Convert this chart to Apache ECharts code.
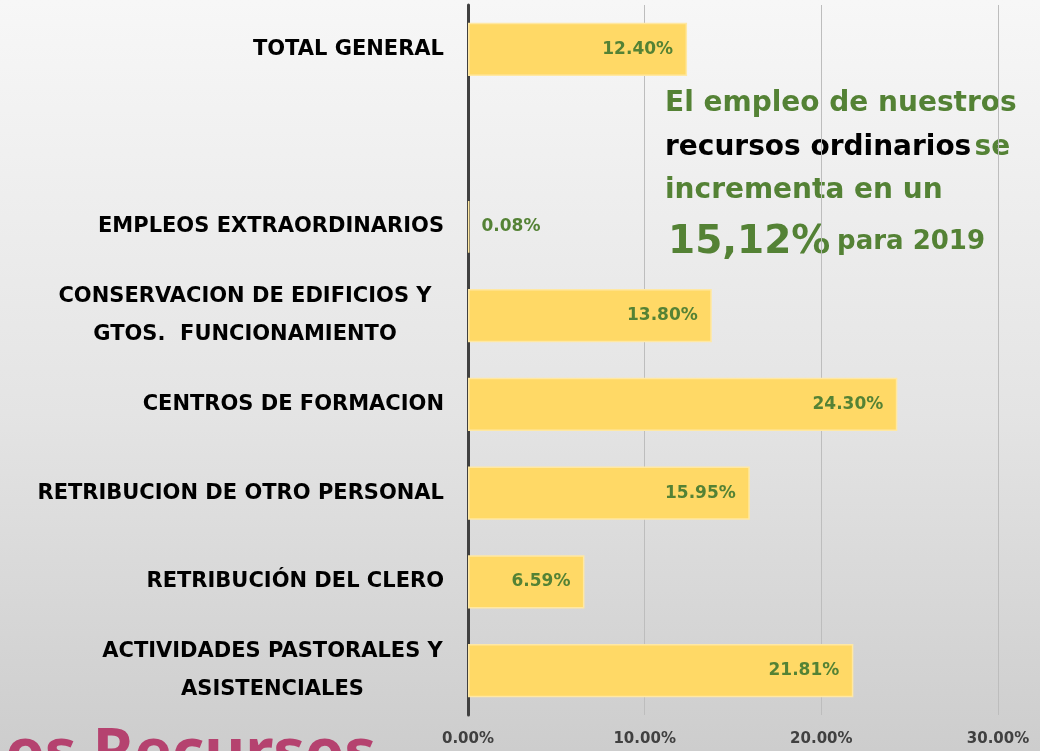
<!DOCTYPE html>
<html>
<head>
<meta charset="utf-8">
<script src="https://cdn.jsdelivr.net/npm/echarts@6/dist/echarts.min.js"></script>
<style type="text/css">
    *{ padding: 0; margin: 0; }
    body{ overflow: hidden; }
    #chart{
        width: 1040px;
        height: 751px;
        background: linear-gradient(180deg, #f7f7f7 0%, #e4e4e4 55%, #cdcdcd 100%);
    }
</style>
</head>
<body>
<div id="chart"></div>
<script type="text/javascript">
    // categorias de abajo hacia arriba
    let categorias = [
        'ACTIVIDADES PASTORALES Y\nASISTENCIALES',
        'RETRIBUCIÓN DEL CLERO',
        'RETRIBUCION DE OTRO PERSONAL',
        'CENTROS DE FORMACION',
        'CONSERVACION DE EDIFICIOS Y\nGTOS.  FUNCIONAMIENTO',
        'EMPLEOS EXTRAORDINARIOS',
        '',
        'TOTAL GENERAL'
    ];
    let valores = [21.81, 6.59, 15.95, 24.30, 13.80, 0.08, null, 12.40];
    let ejeMax = 30;
    let ejeIntervalo = 10;

    let fuente = '"DejaVu Sans", sans-serif';
    let verde = '#548235';

    let myChart = echarts.init(document.getElementById('chart'));

    let datos = valores.map(function (v) {
        if (v !== null && v < 1) {
            // barra muy corta: la etiqueta va fuera
            return { value: v, label: { position: 'right', distance: 12 } };
        }
        return v;
    });

    let option = {
        animation: false,
        grid: { left: 468, right: 42, top: 5, bottom: 36 },
        xAxis: {
            type: 'value',
            min: 0,
            max: ejeMax,
            interval: ejeIntervalo,
            axisLine: { show: false },
            axisTick: { show: false },
            splitLine: { show: true, lineStyle: { color: '#bdbdbd', width: 1 } },
            axisLabel: {
                margin: 17,
                color: '#404040',
                fontFamily: fuente,
                fontWeight: 'bold',
                fontSize: 15,
                formatter: function (v) { return v.toFixed(2) + '%'; }
            }
        },
        yAxis: {
            type: 'category',
            data: categorias,
            axisLine: { show: true, lineStyle: { color: '#404040', width: 3 } },
            axisTick: { show: false },
            axisLabel: {
                margin: 24,
                color: '#000',
                fontFamily: fuente,
                fontWeight: 'bold',
                fontSize: 21,
                lineHeight: 38,
                formatter: function (v) {
                    if (v.indexOf('CONSERVACION') === 0) {
                        return v.split('\n').map(function (l) { return '{a|' + l + '}'; }).join('\n');
                    }
                    if (v.indexOf('ACTIVIDADES') === 0) {
                        return v.split('\n').map(function (l) { return '{b|' + l + '}'; }).join('\n');
                    }
                    return v;
                },
                rich: {
                    a: { width: 398, align: 'center', fontFamily: fuente, fontWeight: 'bold', fontSize: 21, lineHeight: 38, color: '#000' },
                    b: { width: 343, align: 'center', fontFamily: fuente, fontWeight: 'bold', fontSize: 21, lineHeight: 38, color: '#000' }
                }
            }
        },
        series: [{
            type: 'bar',
            data: datos,
            barWidth: '60%',
            itemStyle: { color: '#ffd966', borderColor: '#ffe8a3', borderWidth: 1.5 },
            label: {
                show: true,
                position: 'insideRight',
                distance: 14,
                color: verde,
                fontFamily: fuente,
                fontWeight: 'bold',
                fontSize: 17,
                formatter: function (p) { return p.value.toFixed(2) + '%'; }
            }
        }],
        graphic: [
            {
                type: 'text', left: 665, top: 90,
                style: { text: 'El empleo de nuestros', fill: verde, font: 'bold 28px ' + fuente }
            },
            {
                type: 'text', left: 665, top: 134,
                style: {
                    text: '{k|recursos ordinarios} {g|se}',
                    rich: {
                        k: { fill: '#000', font: 'bold 28px ' + fuente },
                        g: { fill: verde, font: 'bold 28px ' + fuente }
                    }
                }
            },
            {
                type: 'text', left: 665, top: 177,
                style: { text: 'incrementa en un', fill: verde, font: 'bold 28px ' + fuente }
            },
            {
                type: 'text', left: 668, top: 223,
                style: {
                    text: '{n|15,12%}  {p|para 2019}',
                    rich: {
                        n: { fill: verde, font: 'bold 39px ' + fuente },
                        p: { fill: verde, font: 'bold 26px ' + fuente }
                    }
                }
            },
            {
                type: 'text', right: 664, top: 724,
                style: { text: 'os Recursos', fill: '#b5426f', font: '700 63px "Noto Sans", sans-serif' }
            }
        ]
    };
    myChart.setOption(option);
</script>
</body>
</html>
